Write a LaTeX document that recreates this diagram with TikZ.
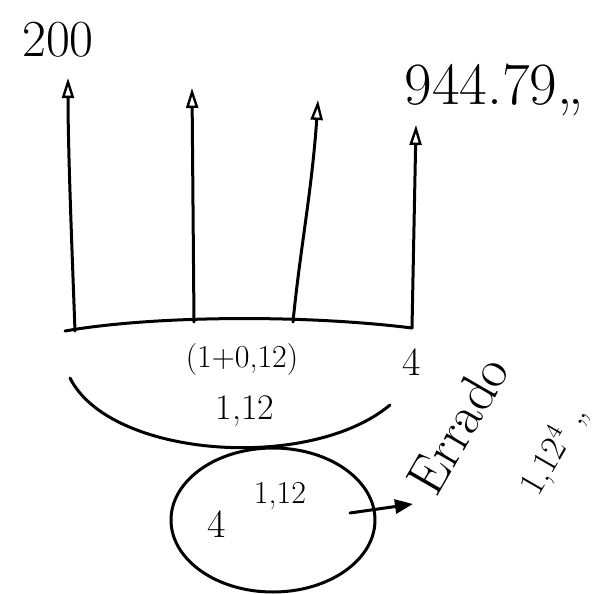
\documentclass[tikz,border=0pt]{standalone}
\usetikzlibrary{arrows.meta,shapes.geometric}
\begin{document}
\begin{tikzpicture}[x=0.5pt,y=-0.5pt, line width=1.5pt, line cap=round, line join=round,
  up/.style={-{Triangle[open,length=10pt,width=6pt,line width=1.2pt]}},
  hand/.style={inner sep=0pt},
  big/.style={hand,font=\fontsize{26}{30}\selectfont},
  mid/.style={hand,font=\fontsize{16}{19}\selectfont}]
\useasboundingbox (0,0) rectangle (611,594);
% top labels
\node[big] (t200) at (58,40) {200};
\node[big,font=\fontsize{30}{34}\selectfont] (t944) at (494,90) {944.79,,};
% arrow ends
\coordinate (b1) at (75,331);
\coordinate (b2) at (194,322);
\coordinate (b3) at (293,322);
\coordinate (b4) at (412,328);
\coordinate (b0) at (65,331);
\coordinate (t1) at (68,78);
\coordinate (t2) at (192,88);
\coordinate (t3) at (318,100);
\coordinate (t4) at (416,125);
% baseline
\draw (b0) .. controls (150,316) and (300,314) .. (b4);
% arrows
\draw[up] (b1) .. controls (72,250) and (68,150) .. (t1);
\draw[up] (b2) -- (t2);
\draw[up] (b3) .. controls (300,250) and (312,190) .. (t3);
\draw[up] (b4) -- (t4);
% labels under the line
\node[mid] (rate) at (242,360) {(1+0,12)};
\node[mid,font=\fontsize{20}{24}\selectfont] (n4) at (412,362) {4};
% lower arc
\coordinate (c0) at (70,378);
\coordinate (c1) at (390,405);
\draw (c0) .. controls (110,458) and (310,472) .. (c1);
\node[mid,font=\fontsize{18}{22}\selectfont] (f112) at (245,411) {1,12};
% ellipse
\node[draw, ellipse, minimum width=102pt, minimum height=72pt, inner sep=0pt] (e) at (273,520) {};
\node[hand,font=\fontsize{20}{24}\selectfont] (e4) at (217,524) {4};
\node[hand,font=\fontsize{16}{19}\selectfont] (e112) at (280,496) {1,12};
\coordinate (ea) at (350,513);
\coordinate (eb) at (413,504);
\draw[-{Triangle[length=9pt,width=7pt]}] (ea) -- (eb);
% side texts
\node[hand,font=\fontsize{27}{31}\selectfont,rotate=60] (err) at (458,425) {Errado};
\node[hand,font=\fontsize{18}{21}\selectfont,rotate=60] (pow) at (554,450) {1,12$^4$ ,,};
\end{tikzpicture}
\end{document}
